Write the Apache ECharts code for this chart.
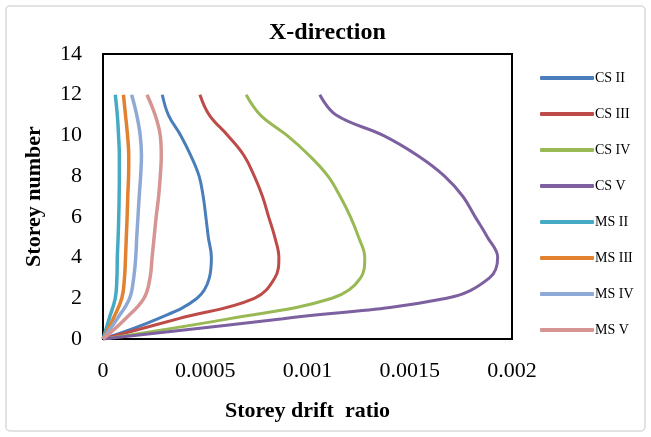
<!DOCTYPE html>
<html>
<head>
<meta charset="utf-8">
<script src="https://cdn.jsdelivr.net/npm/echarts@6/dist/echarts.min.js"></script>
<style>
  html, body { margin: 0; padding: 0; background: #fff; }
  #main { width: 651px; height: 437px; }
</style>
</head>
<body>
<div id="main"></div>
<script>
var storeys = [0, 1, 2, 3, 4, 5, 6, 7, 8, 9, 10, 11, 12];

// drift ratio per storey (0..12)
var csII  = [0, 0.00027, 0.00046, 0.00052, 0.00053, 0.000515, 0.000503, 0.00049, 0.00047, 0.00043, 0.00038, 0.00032, 0.00029];
var csIII = [0, 0.00037, 0.00074, 0.00084, 0.00086, 0.00084, 0.00081, 0.00078, 0.00074, 0.00069, 0.00061, 0.00052, 0.000474];
var csIV  = [0, 0.00062, 0.00112, 0.00126, 0.00128, 0.00125, 0.00121, 0.00116, 0.0011, 0.00101, 0.0009, 0.00077, 0.0007];
var csV   = [0, 0.00088, 0.00168, 0.00189, 0.00193, 0.00188, 0.00182, 0.00176, 0.00167, 0.00154, 0.00137, 0.00114, 0.00106];
var msII  = [0, 0.00003, 0.00006, 0.000068, 0.00007, 0.000074, 0.000077, 0.000079, 0.00008, 0.00008, 0.000076, 0.00007, 0.00006];
var msIII = [0, 0.00005, 0.000092, 0.000105, 0.00011, 0.000114, 0.000118, 0.000121, 0.000125, 0.000126, 0.00012, 0.00011, 0.0001];
var msIV  = [0, 0.00007, 0.00013, 0.00015, 0.00016, 0.000165, 0.000171, 0.000177, 0.000184, 0.000188, 0.000182, 0.000165, 0.00014];
var msV   = [0, 0.00011, 0.0002, 0.00023, 0.00024, 0.00025, 0.00026, 0.000272, 0.00028, 0.000285, 0.00028, 0.000255, 0.000215];

var seriesNames = ['CS II', 'CS III', 'CS IV', 'CS V', 'MS II', 'MS III', 'MS IV', 'MS V'];
var seriesData = [csII, csIII, csIV, csV, msII, msIII, msIV, msV];
var colors = ['#4a7ebb', '#be4b48', '#98b954', '#7d60a0', '#46aac5', '#e2812f', '#8fa9d6', '#d69593'];
var widths = [3, 3, 3, 3, 3.5, 3.5, 3.5, 3.5];

var xTickLabels = ['0', '0.0005', '0.001', '0.0015', '0.002'];

var chart = echarts.init(document.getElementById('main'));

var series = seriesNames.map(function (name, i) {
    return {
        name: name,
        type: 'line',
        smooth: 0.4,
        symbol: 'none',
        lineStyle: { width: widths[i], color: colors[i] },
        itemStyle: { color: colors[i] },
        data: seriesData[i].map(function (v, k) { return [v, storeys[k]]; })
    };
});

var font = '"Liberation Serif", "Times New Roman", serif';

var option = {
    animation: false,
    textStyle: { fontFamily: font },
    title: {
        text: 'X-direction',
        left: 264,
        top: 16,
        textStyle: { fontFamily: font, fontSize: 24, fontWeight: 'bold', color: '#000' }
    },
    grid: {
        left: 103, right: 139, top: 54, bottom: 98,
        show: true, borderColor: '#000', borderWidth: 2
    },
    legend: {
        orient: 'vertical',
        left: 535,
        top: 66,
        itemWidth: 54,
        itemHeight: 4,
        itemGap: 22,
        icon: 'roundRect',
        textStyle: { fontFamily: font, fontSize: 14, color: '#000', padding: [0, 0, 0, -4] },
        data: seriesNames
    },
    xAxis: {
        type: 'value',
        min: 0, max: 0.002, interval: 0.0005,
        name: 'Storey drift  ratio',
        nameLocation: 'middle',
        nameGap: 61,
        nameTextStyle: { fontFamily: font, fontSize: 22, fontWeight: 'bold', color: '#000' },
        axisLine: { show: false },
        axisTick: { show: false },
        splitLine: { show: false },
        axisLabel: {
            margin: 21, fontSize: 22, color: '#000', fontFamily: font,
            formatter: function (v) { return xTickLabels[Math.round(v / 0.0005)]; }
        }
    },
    yAxis: {
        type: 'value',
        min: 0, max: 14, interval: 2,
        name: 'Storey number',
        nameLocation: 'middle',
        nameGap: 58,
        nameTextStyle: { fontFamily: font, fontSize: 22, fontWeight: 'bold', color: '#000' },
        axisLine: { show: false },
        axisTick: { show: false },
        splitLine: { show: false },
        axisLabel: { margin: 21, fontSize: 22, color: '#000', fontFamily: font }
    },
    graphic: [{
        type: 'rect',
        shape: { x: 6, y: 6, width: 639, height: 425, r: 4 },
        style: { fill: 'none', stroke: '#d9d9d9', lineWidth: 1.5 },
        silent: true
    }],
    series: series
};

chart.setOption(option);
</script>
</body>
</html>
